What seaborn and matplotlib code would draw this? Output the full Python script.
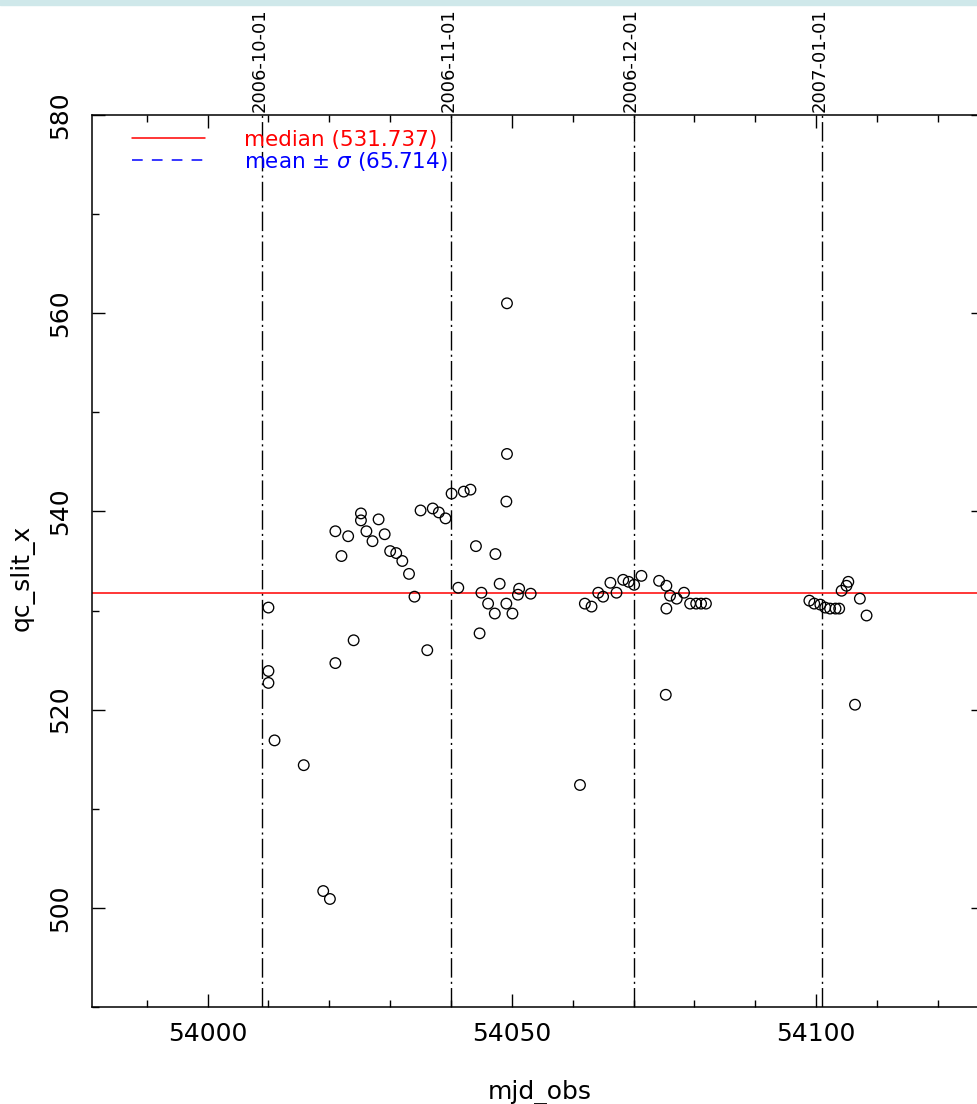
import numpy as np
import pandas as pd
import matplotlib
matplotlib.use("Agg")
import matplotlib.pyplot as plt
from matplotlib.lines import Line2D
from matplotlib.ticker import MultipleLocator
import seaborn as sns

# %% data
mjd_obs = [54010.0, 54010.0, 54010.0, 54011.0, 54015.8, 54019.0, 54020.1, 54021.0, 54021.0, 54022.0,
           54023.1, 54024.0, 54025.2, 54025.2, 54026.1, 54027.1, 54028.1, 54029.1, 54030.0, 54031.0,
           54032.0, 54033.1, 54034.0, 54035.0, 54036.1, 54037.0, 54038.0, 54039.1, 54040.1, 54041.2,
           54042.1, 54043.2, 54044.1, 54044.7, 54045.0, 54046.1, 54047.2, 54047.3, 54048.0, 54049.1,
           54049.1, 54049.2, 54049.2, 54050.1, 54051.0, 54051.2, 54053.1, 54061.2, 54062.0, 54063.1,
           54064.2, 54065.0, 54066.2, 54067.2, 54068.3, 54069.2, 54070.1, 54071.3, 54074.2, 54075.3,
           54075.4, 54075.4, 54076.0, 54077.1, 54078.3, 54079.3, 54080.3, 54081.1, 54081.9, 54098.9,
           54099.7, 54100.7, 54101.5, 54102.3, 54103.2, 54103.8, 54104.2, 54105.0, 54105.3, 54106.4,
           54107.2, 54108.3]
qc_slit_x = [530.3, 523.9, 522.7, 516.9, 514.4, 501.7, 500.9, 538.0, 524.7, 535.5,
             537.5, 527.0, 539.8, 539.1, 538.0, 537.0, 539.2, 537.7, 536.0, 535.8,
             535.0, 533.7, 531.4, 540.1, 526.0, 540.3, 539.9, 539.3, 541.8, 532.3,
             542.0, 542.2, 536.5, 527.7, 531.8, 530.7, 529.7, 535.7, 532.7, 530.7,
             541.0, 545.8, 561.0, 529.7, 531.6, 532.2, 531.7, 512.4, 530.7, 530.4,
             531.8, 531.4, 532.8, 531.8, 533.1, 532.9, 532.6, 533.5, 533.0, 521.5,
             532.5, 530.2, 531.5, 531.2, 531.8, 530.7, 530.7, 530.7, 530.7, 531.0,
             530.7, 530.6, 530.3, 530.2, 530.2, 530.2, 532.0, 532.5, 532.9, 520.5,
             531.2, 529.5]

median_val = 531.737
sigma_val = 65.714

month_mjd = [54009, 54040, 54070, 54101]
month_labels = ['2006-10-01', '2006-11-01', '2006-12-01', '2007-01-01']

df = pd.DataFrame({'mjd_obs': mjd_obs, 'qc_slit_x': qc_slit_x})

# %% plot
sns.set_style('ticks', {'text.color': 'black', 'axes.labelcolor': 'black',
                        'xtick.color': 'black', 'ytick.color': 'black',
                        'axes.edgecolor': 'black'})
plt.rcParams['font.family'] = ['DejaVu Sans']
plt.rcParams['axes.linewidth'] = 1.1

fig = plt.figure(figsize=(9.78, 11.04), dpi=100)
fig.patches.append(plt.Rectangle((0, 1 - 5/1104), 1, 5/1104, transform=fig.transFigure,
                                 color='#cfe8ea', zorder=0))
ax = fig.add_axes([92/978, 1 - 1007/1104, 892/978, 892/1104])

ax.axhline(median_val, color='red', lw=1.1, zorder=2)
for m in month_mjd:
    ax.axvline(m, color='black', lw=1.0, dashes=(14, 3, 1.5, 3), zorder=1)

sns.scatterplot(data=df, x='mjd_obs', y='qc_slit_x', ax=ax, marker='o', s=58,
                facecolors='none', edgecolor='black', linewidth=0.95, zorder=3)

for m, lab in zip(month_mjd, month_labels):
    ax.text(m - 0.4, 1.003, lab, transform=ax.get_xaxis_transform(), rotation=90,
            ha='center', va='bottom', fontsize=13, color='black', clip_on=False)

ax.set_xlim(53981, 54127.6)
ax.set_ylim(490, 580)
ax.xaxis.set_major_locator(MultipleLocator(50))
ax.xaxis.set_minor_locator(MultipleLocator(10))
ax.yaxis.set_major_locator(MultipleLocator(20))
ax.yaxis.set_minor_locator(MultipleLocator(10))
ax.tick_params(which='both', direction='in', top=True, right=True, color='black')
ax.tick_params(which='major', length=9.5, width=1.0)
ax.tick_params(which='minor', length=5, width=1.0)
ax.tick_params(axis='x', labelsize=18, pad=11)
ax.tick_params(axis='y', labelsize=18, pad=14, labelrotation=90)
for t in ax.get_yticklabels():
    t.set_va('center')

ax.set_xlabel('mjd_obs', fontsize=18)
ax.set_ylabel('qc_slit_x', fontsize=18)
ax.xaxis.set_label_coords(0.502, -0.082)
ax.yaxis.set_label_coords(-0.064, 0.481)

handles = [Line2D([], [], color='red', lw=1.1),
           Line2D([], [], color='blue', lw=1.1, ls=(0, (7, 6)))]
labels = ['median (%.3f)' % median_val, 'mean $\\pm$ $\\sigma$ (%.3f)' % sigma_val]
leg = ax.legend(handles, labels, loc='upper left', bbox_to_anchor=(0.035, 0.993),
                frameon=False, fontsize=15.5, handlelength=3.4, handletextpad=1.8,
                labelspacing=0.0, borderaxespad=0.0, labelcolor=['red', 'blue'])

fig.savefig('out.png', dpi=100)
plt.close()
